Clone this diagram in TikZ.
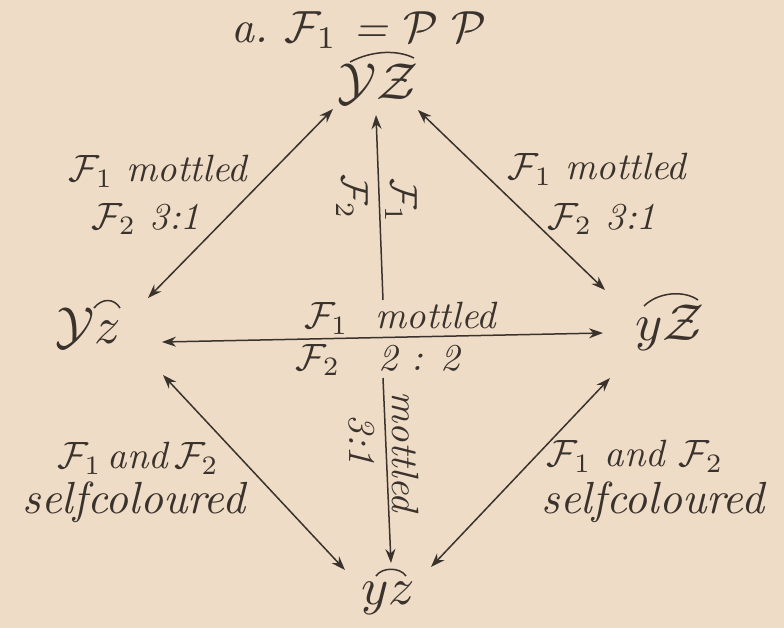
\documentclass[tikz,border=0pt]{standalone}
\usetikzlibrary{arrows.meta}
\definecolor{paper}{HTML}{EEDCC6}
\definecolor{ink}{HTML}{3A322C}
\newcommand\Fone{$\mathcal{F}_{1}$}
\newcommand\Ftwo{$\mathcal{F}_{2}$}
\begin{document}
\begin{tikzpicture}[x=0.5pt,y=-0.5pt,
  every node/.style={text=ink, inner sep=0pt},
  lbl/.style={font=\itshape, scale=1.9},
  big/.style={font=\itshape, scale=2.25},
  gene/.style={font=\itshape, scale=2.6},
  con/.style={draw=ink, line width=0.75pt},
  dbl/.style={con, {Stealth[length=7pt,width=5pt]}-{Stealth[length=7pt,width=5pt]}},
  one/.style={con, -{Stealth[length=7pt,width=5pt]}}]
\fill[paper] (0,0) rectangle (784,628);
\useasboundingbox (0,0) rectangle (784,628);

% title
\node[big] (title) at (359,30) {a.\ \Fone\ = $\mathcal{P}\;\mathcal{P}$};

% genotypes
\node[gene] (T) at (378,84) {$\mathcal{Y}\mathcal{Z}$};
\node[gene] (L) at (88,328) {$\mathcal{Y}z$};
\node[gene] (R) at (670,328) {$y\mathcal{Z}$};
\node[gene] (B) at (388,598) {$yz$};

% arcs over genotypes
\draw[con] ([shift={(-28,-22)}]T.center) .. controls ([shift={(-5,-34)}]T.center) and ([shift={(20,-34)}]T.center) .. ([shift={(36,-26)}]T.center);
\draw[con] ([shift={(6,-20)}]L.center) .. controls ([shift={(14,-30)}]L.center) and ([shift={(26,-30)}]L.center) .. ([shift={(32,-20)}]L.center);
\draw[con] ([shift={(-26,-22)}]R.center) .. controls ([shift={(-12,-36)}]R.center) and ([shift={(14,-38)}]R.center) .. ([shift={(28,-28)}]R.center);
\draw[con] ([shift={(-12,-22)}]B.center) .. controls ([shift={(-6,-31)}]B.center) and ([shift={(12,-31)}]B.center) .. ([shift={(18,-22)}]B.center);

% connectors
\coordinate (upstart) at (383,300);
\coordinate (downstart) at (383,378);
\draw[dbl] ([shift={(60,-30)}]L.center) -- ([shift={(-45,25)}]T.center);
\draw[dbl] ([shift={(40,26)}]T.center) -- ([shift={(-65,-38)}]R.center);
\draw[dbl] ([shift={(74,14)}]L.center) -- ([shift={(-67,5)}]R.center);
\draw[one] (upstart) -- ([shift={(-2,31)}]T.center);
\draw[one] (downstart) -- ([shift={(3,-35)}]B.center);
\draw[dbl] ([shift={(75,47)}]L.center) -- ([shift={(-43,-28)}]B.center);
\draw[dbl] ([shift={(-60,50)}]R.center) -- ([shift={(43,-31)}]B.center);

% labels
\node[lbl] (lm1) at (158,171) {\Fone\ mottled};
\node[lbl] (lm2) at (146,219) {\Ftwo\ 3:1};
\node[lbl] (rm1) at (597,169) {\Fone\ mottled};
\node[lbl] (rm2) at (602,219) {\Ftwo\ 3:1};
\node[lbl] (hm1) at (400,318) {\Fone\ \ mottled};
\node[lbl] (hm2) at (378,360) {\Ftwo\quad 2 : 2};
\node[lbl, rotate=-90] (vf2) at (352,197) {\Ftwo};
\node[lbl, rotate=-90] (vf1) at (401,201) {\Fone};
\node[lbl, rotate=-90] (v31) at (362,440) {3:1};
\node[lbl, rotate=-90] (vmo) at (405,452) {mottled};
\node[lbl] (ls1) at (138,458) {\Fone\,and\,\Ftwo};
\node[big] (ls2) at (134,502) {selfcoloured};
\node[lbl] (rs1) at (635,456) {\Fone\ and \Ftwo};
\node[big] (rs2) at (653,502) {selfcoloured};
\end{tikzpicture}
\end{document}
